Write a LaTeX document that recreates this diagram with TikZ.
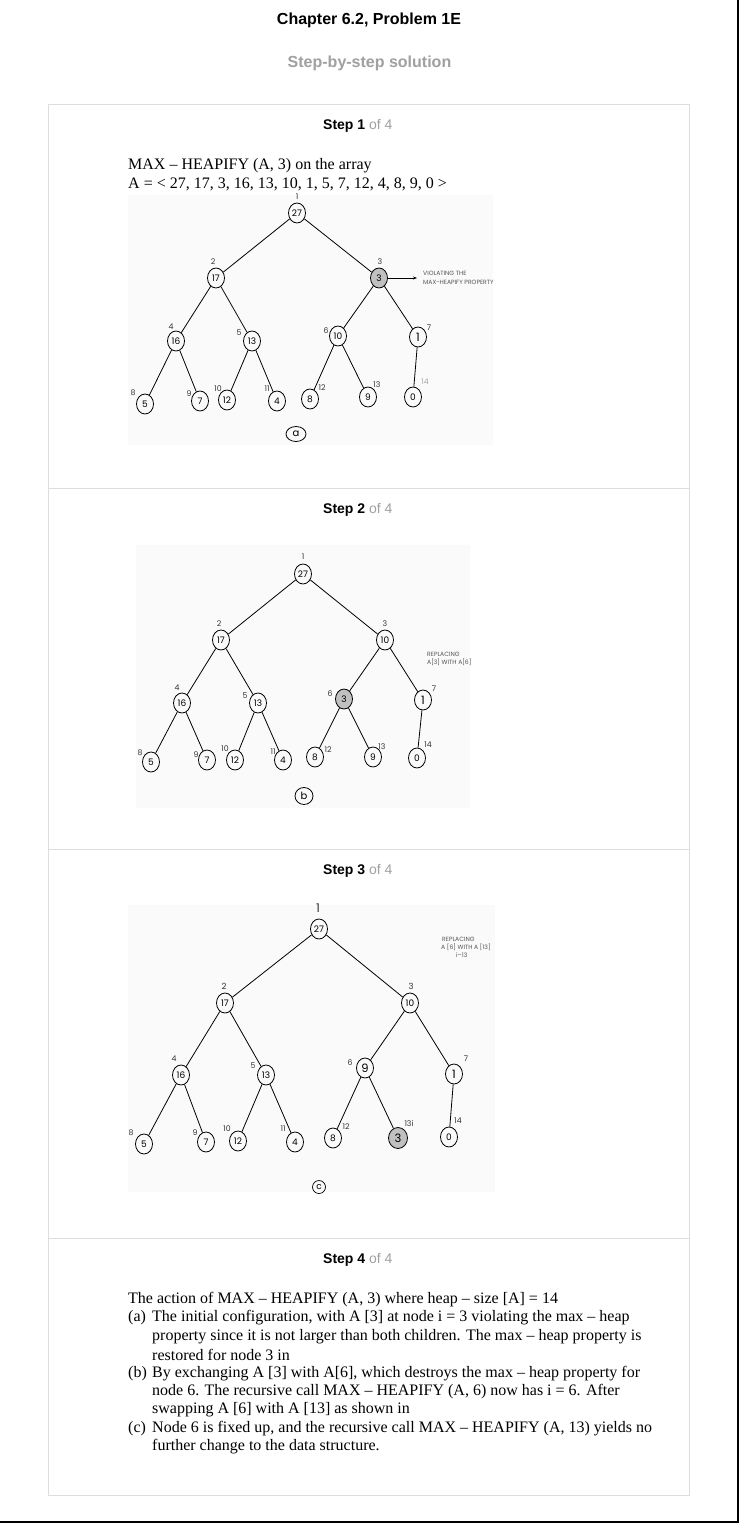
\documentclass[tikz,border=0pt]{standalone}
\usepackage{fontspec}
\setmainfont{Liberation Serif}
\newfontfamily\arialf{Liberation Sans}
\newfontfamily\geo{Poppins}
\usetikzlibrary{shapes.geometric,arrows.meta}
\definecolor{panelline}{HTML}{DDDDDD}
\definecolor{subgray}{HTML}{A0A0A0}
\definecolor{nodegray}{HTML}{C0C0C0}
\definecolor{idxcol}{HTML}{333333}
\definecolor{idxlight}{HTML}{A8A8A8}
\definecolor{imgbg}{HTML}{FAFAFA}
\definecolor{notecol}{HTML}{555555}
\tikzset{
  hn/.style={ellipse, draw=black, line width=0.8pt, minimum width=17pt, minimum height=20pt, inner sep=0pt, font=\geo\fontsize{9}{9}\selectfont},
  hg/.style={hn, fill=nodegray},
  big/.style={font=\geo\fontsize{11.5}{11.5}\selectfont},
  idx/.style={inner sep=0pt, text=idxcol, font=\geo\fontsize{7.8}{7.8}\selectfont},
  tedge/.style={line width=0.8pt, black},
  note/.style={inner sep=0pt, anchor=west, text=notecol, font=\geo\fontsize{6.1}{6.1}\selectfont},
  steplbl/.style={inner sep=0pt, anchor=west, font=\arialf\fontsize{14}{14}\selectfont},
  body/.style={inner sep=0pt, anchor=west, font=\fontsize{16}{16}\selectfont},
  panel/.style={draw=panelline, line width=1pt},
  imgbox/.style={fill=imgbg, draw=none}
}
\begin{document}
\begin{tikzpicture}[x=1pt, y=-1pt]
\useasboundingbox (0,0) rectangle (739,1523);
\fill[white] (0,0) rectangle (739,1523);
% outer frame (right and bottom)
\draw[line width=1.5pt] (738.2,0) -- (738.2,1522.2) -- (0,1522.2);
% titles
\node[inner sep=0pt, font=\arialf\bfseries\fontsize{16}{16}\selectfont] (title) at (369,20) {Chapter 6.2, Problem 1E};
\node[inner sep=0pt, text=subgray, font=\arialf\bfseries\fontsize{16}{16}\selectfont] (subtitle) at (369.5,63) {Step-by-step solution};
% panels
\draw[panel] (48,104) rectangle (689,1495);
\draw[panel] (48,488) -- (689,488);
\draw[panel] (48,849) -- (689,849);
\draw[panel] (48,1238) -- (689,1238);
\node[steplbl] (s1) at (323,126) {\textbf{Step 1} \textcolor{subgray}{of 4}};
\node[steplbl] (s2) at (323,510) {\textbf{Step 2} \textcolor{subgray}{of 4}};
\node[steplbl] (s3) at (323,871) {\textbf{Step 3} \textcolor{subgray}{of 4}};
\node[steplbl] (s4) at (323,1260) {\textbf{Step 4} \textcolor{subgray}{of 4}};

% ================= Step 1 =================
\fill[imgbox] (128,195) rectangle (493,445);
\node[body] (t1a) at (128,166) {MAX – HEAPIFY (A, 3) on the array};
\node[body] (t1b) at (128,184) {A = < 27, 17, 3, 16, 13, 10, 1, 5, 7, 12, 4, 8, 9, 0 >};
\node[hn] (a1) at (297,213) {27};
\node[hn] (a2) at (216,278) {17};
\node[hg] (a3) at (379,278) {3};
\node[hn] (a4) at (176,341) {16};
\node[hn] (a5) at (252,341) {13};
\node[hn] (a6) at (338,336) {10};
\node[hn, big] (a7) at (418,337) {1};
\node[hn] (a8) at (145,404) {5};
\node[hn] (a9) at (200,401) {7};
\node[hn] (a10) at (227,400) {12};
\node[hn] (a11) at (277,401) {4};
\node[hn] (a12) at (310,399) {8};
\node[hn] (a13) at (368,397) {9};
\node[hn] (a14) at (413,397) {0};
\foreach \p/\c in {1/2,1/3,2/4,2/5,3/6,3/7,4/8,4/9,5/10,5/11,6/12,6/13,7/14}
  \draw[tedge] (a\p) -- (a\c);
\node[idx] (ia1) at (297,197) {1};
\node[idx] (ia2) at (213,262) {2};
\node[idx] (ia3) at (380,262) {3};
\node[idx] (ia4) at (171,327) {4};
\node[idx] (ia5) at (239,333) {5};
\node[idx] (ia6) at (326,331) {6};
\node[idx] (ia7) at (429,328) {7};
\node[idx] (ia8) at (133,393) {8};
\node[idx] (ia9) at (189,394) {9};
\node[idx] (ia10) at (218,389) {10};
\node[idx] (ia11) at (267,389) {11};
\node[idx] (ia12) at (322,388) {12};
\node[idx] (ia13) at (377,385) {13};
\node[idx, text=idxlight] (ia14) at (425,382) {14};
\coordinate (arrA) at (417,278);
\draw[line width=0.8pt, -{Stealth[length=4pt, width=3pt]}] (a3) -- (arrA);
\node[note] (va) at (423,273) {VIOLATING THE};
\node[note] (vb) at (423,282) {MAX-HEAPIFY PROPERTY};
\node[ellipse, draw, line width=0.8pt, minimum width=20pt, minimum height=15pt, inner sep=0pt, font=\geo\fontsize{10}{10}\selectfont] (ca) at (296,434) {a};

% ================= Step 2 =================
\fill[imgbox] (136,545) rectangle (470,808);
\node[hn] (b1) at (303,574) {27};
\node[hn] (b2) at (221,640) {17};
\node[hn] (b3) at (385,640) {10};
\node[hn] (b4) at (182,703) {16};
\node[hn] (b5) at (258,703) {13};
\node[hg] (b6) at (344,699) {3};
\node[hn, big] (b7) at (423,700) {1};
\node[hn] (b8) at (151,762) {5};
\node[hn] (b9) at (207,760) {7};
\node[hn] (b10) at (235,760) {12};
\node[hn] (b11) at (283,760) {4};
\node[hn] (b12) at (315,757) {8};
\node[hn] (b13) at (373,757) {9};
\node[hn] (b14) at (417,758) {0};
\foreach \p/\c in {1/2,1/3,2/4,2/5,3/6,3/7,4/8,4/9,5/10,5/11,6/12,6/13,7/14}
  \draw[tedge] (b\p) -- (b\c);
\node[idx] (ib1) at (303,557) {1};
\node[idx] (ib2) at (219,624) {2};
\node[idx] (ib3) at (385,624) {3};
\node[idx] (ib4) at (177,688) {4};
\node[idx] (ib5) at (245,696) {5};
\node[idx] (ib6) at (330,694) {6};
\node[idx] (ib7) at (434,689) {7};
\node[idx] (ib8) at (140,753) {8};
\node[idx] (ib9) at (196,755) {9};
\node[idx] (ib10) at (225,749) {10};
\node[idx] (ib11) at (273,752) {11};
\node[idx] (ib12) at (328,750) {12};
\node[idx] (ib13) at (382,747) {13};
\node[idx] (ib14) at (428,745) {14};
\node[note] (rb1) at (427,654) {REPLACING};
\node[note] (rb2) at (427,662) {A[3] WITH A[6]};
\node[ellipse, draw, line width=0.8pt, minimum width=18pt, minimum height=17pt, inner sep=0pt, font=\geo\fontsize{10}{10}\selectfont] (cb) at (304,796) {b};

% ================= Step 3 =================
\fill[imgbox] (128,905) rectangle (495,1192);
\node[hn] (c1) at (319,929) {27};
\node[hn] (c2) at (225,1003) {17};
\node[hn] (c3) at (410,1003) {10};
\node[hn] (c4) at (181,1075) {16};
\node[hn] (c5) at (266,1075) {13};
\node[hn, big] (c6) at (365,1068) {9};
\node[hn, big] (c7) at (454,1074) {1};
\node[hn] (c8) at (144,1144) {5};
\node[hn] (c9) at (206,1142) {7};
\node[hn] (c10) at (238,1141) {12};
\node[hn] (c11) at (295,1142) {4};
\node[hn] (c12) at (333,1138) {8};
\node[hg, big, minimum width=19pt, minimum height=21pt] (c13) at (398,1138) {3};
\node[hn] (c14) at (449,1137) {0};
\foreach \p/\c in {1/2,1/3,2/4,2/5,3/6,3/7,4/8,4/9,5/10,5/11,6/12,6/13,7/14}
  \draw[tedge] (c\p) -- (c\c);
\node[idx, font=\geo\fontsize{12}{12}\selectfont] (ic1) at (318,908) {1};
\node[idx, font=\geo\fontsize{8.5}{8.5}\selectfont] (ic2) at (224,986) {2};
\node[idx, font=\geo\fontsize{8.5}{8.5}\selectfont] (ic3) at (411,986) {3};
\node[idx] (ic4) at (174,1059) {4};
\node[idx] (ic5) at (253,1066) {5};
\node[idx] (ic6) at (350,1063) {6};
\node[idx] (ic7) at (466,1059) {7};
\node[idx] (ic8) at (131,1133) {8};
\node[idx] (ic9) at (195,1133) {9};
\node[idx] (ic10) at (227,1129) {10};
\node[idx] (ic11) at (283,1129) {11};
\node[idx] (ic12) at (346,1127) {12};
\node[idx] (ic13) at (409,1124) {13i};
\node[idx] (ic14) at (458,1121) {14};
\node[note] (rc1) at (442,939) {REPLACING};
\node[note] (rc2) at (441,947) {A [6] WITH A [13]};
\node[note] (rc3) at (456,955) {i–13};
\node[circle, draw, line width=0.7pt, minimum size=13pt, inner sep=0pt, font=\geo\fontsize{9}{9}\selectfont] (cc) at (319,1187) {c};

% ================= Step 4 =================
\node[body] (l0) at (128,1300) {The action of MAX – HEAPIFY (A, 3) where heap – size [A] = 14};
\node[body] (la) at (128,1318) {(a)};
\node[body] (l1) at (152,1318) {The initial configuration, with A [3] at node i = 3 violating the max – heap};
\node[body] (l2) at (152,1337) {property since it is not larger than both children. The max – heap property is};
\node[body] (l3) at (152,1355) {restored for node 3 in};
\node[body] (lb) at (128,1374) {(b)};
\node[body] (l4) at (152,1374) {By exchanging A [3] with A[6], which destroys the max – heap property for};
\node[body] (l5) at (152,1392) {node 6. The recursive call MAX – HEAPIFY (A, 6) now has i = 6. After};
\node[body] (l6) at (152,1410) {swapping A [6] with A [13] as shown in};
\node[body] (lc) at (128,1429) {(c)};
\node[body] (l7) at (152,1429) {Node 6 is fixed up, and the recursive call MAX – HEAPIFY (A, 13) yields no};
\node[body] (l8) at (152,1447) {further change to the data structure.};
\end{tikzpicture}
\end{document}
